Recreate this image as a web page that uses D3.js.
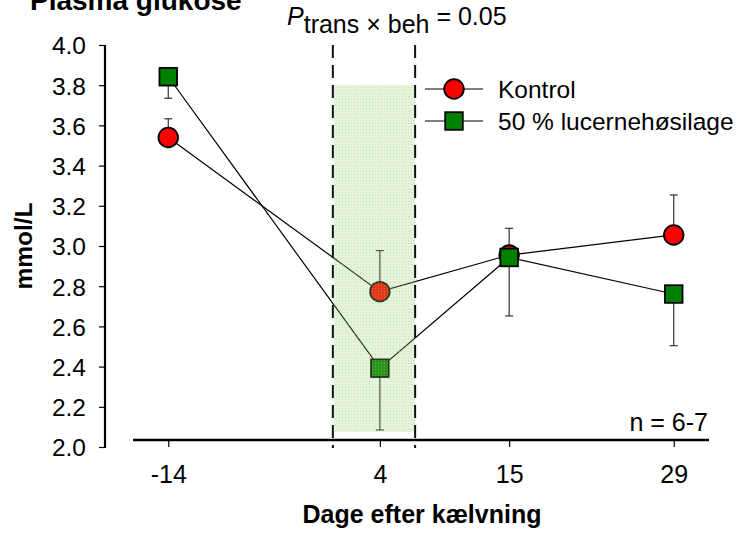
<!DOCTYPE html>
<html>
<head>
<meta charset="utf-8">
<script src="https://cdn.jsdelivr.net/npm/d3@7"></script>
<style>
  html, body { margin: 0; padding: 0; background: #fff; }
  svg { display: block; font-family: Arial, "Liberation Sans", sans-serif; }
</style>
</head>
<body>
<svg id="chart" width="744" height="534"></svg>
<script>
// ---- data ----
const days = [-14, 4, 15, 29];
const kontrolMean = [3.54, 2.773, 2.955, 3.055];
const kontrolUpper = [3.633, 2.977, 3.088, 3.254];
const lucerneMean = [3.842, 2.392, 2.943, 2.761];
const lucerneLower = [3.735, 2.085, 2.652, 2.504];
const yTicks = [2.0, 2.2, 2.4, 2.6, 2.8, 3.0, 3.2, 3.4, 3.6, 3.8, 4.0];
const xTickLabels = ["-14", "4", "15", "29"];
const windowDays = [0, 7];
const windowValues = [2.075, 3.8];
const seriesNames = ["Kontrol", "50 % lucernehøsilage"];

const svg = d3.select("#chart");
const x = d3.scaleLinear().domain([-17, 32]).range([133, 709]);
const y = d3.scaleLinear().domain([2, 4]).range([447, 45]);

// title
svg.append("text").attr("x", 30).attr("y", 10)
  .attr("font-size", 28).attr("font-weight", "bold").text("Plasma glukose");

// y axis
const yAxis = svg.append("g").attr("transform", "translate(105,0)")
  .call(d3.axisLeft(y).tickValues(yTicks).tickFormat(d3.format(".1f")).tickSize(6).tickPadding(13));
yAxis.select(".domain").attr("stroke-width", 2.2).attr("d", `M0,${y(2)+1}V${y(4)}`);
yAxis.selectAll(".tick line").attr("stroke-width", 1.2);
yAxis.selectAll(".tick text").attr("font-size", 24.5).attr("fill", "#000")
  .attr("font-family", "Arial, 'Liberation Sans', sans-serif").attr("dy", "0.36em");

// x axis
const xAxis = svg.append("g").attr("transform", "translate(0,440)")
  .call(d3.axisBottom(x).tickValues(days).tickFormat((d, i) => xTickLabels[i]).tickSize(7).tickPadding(18));
xAxis.select(".domain").attr("stroke-width", 2.6).attr("d", `M${x(-17)},0H${x(32)}`);
xAxis.selectAll(".tick line").attr("stroke-width", 1.2);
xAxis.selectAll(".tick text").attr("font-size", 25).attr("fill", "#000")
  .attr("font-family", "Arial, 'Liberation Sans', sans-serif");

// axis titles
svg.append("text").attr("x", 422).attr("y", 523).attr("text-anchor", "middle")
  .attr("font-size", 25).attr("font-weight", "bold").text("Dage efter kælvning");
svg.append("text").attr("transform", "translate(32,246) rotate(-90)").attr("text-anchor", "middle")
  .attr("font-size", 24.5).attr("font-weight", "bold").text("mmol/L");

// n label
svg.append("text").attr("x", 708).attr("y", 431).attr("text-anchor", "end")
  .attr("font-size", 25).text("n = 6-7");

// connecting lines
const line = d3.line().x((d, i) => x(days[i])).y(d => y(d));
svg.append("path").datum(kontrolMean).attr("d", line).attr("fill", "none").attr("stroke", "#000").attr("stroke-width", 1.2);
svg.append("path").datum(lucerneMean).attr("d", line).attr("fill", "none").attr("stroke", "#000").attr("stroke-width", 1.2);

// error bars
function errBars(means, ends) {
  const g = svg.append("g").attr("stroke", "#333").attr("stroke-width", 1.2);
  means.forEach((m, i) => {
    const cx = x(days[i]);
    g.append("line").attr("x1", cx).attr("x2", cx).attr("y1", y(m)).attr("y2", y(ends[i]));
    g.append("line").attr("x1", cx - 4).attr("x2", cx + 4).attr("y1", y(ends[i])).attr("y2", y(ends[i]));
  });
}
errBars(kontrolMean, kontrolUpper);
errBars(lucerneMean, lucerneLower);

// markers
svg.append("g").selectAll("circle").data(kontrolMean).join("circle")
  .attr("cx", (d, i) => x(days[i])).attr("cy", d => y(d)).attr("r", 9.8)
  .attr("fill", "#ff0000").attr("stroke", "#000").attr("stroke-width", 1.8);
svg.append("g").selectAll("rect").data(lucerneMean).join("rect")
  .attr("x", (d, i) => x(days[i]) - 8.8).attr("y", d => y(d) - 8.8)
  .attr("width", 17.6).attr("height", 17.6)
  .attr("fill", "#008000").attr("stroke", "#000").attr("stroke-width", 1.8);

// shaded window (pattern overlay)
const defs = svg.append("defs");
const pat = defs.append("pattern").attr("id", "dots").attr("width", 3).attr("height", 3)
  .attr("patternUnits", "userSpaceOnUse");
pat.append("rect").attr("width", 3).attr("height", 3).attr("fill", "#9bd170").attr("fill-opacity", 0.26);
pat.append("rect").attr("width", 1).attr("height", 1).attr("fill", "#9bd170").attr("fill-opacity", 0.4);
svg.append("rect")
  .attr("x", x(windowDays[0]) + 1).attr("width", x(windowDays[1]) - x(windowDays[0]) - 1)
  .attr("y", y(windowValues[1])).attr("height", y(windowValues[0]) - y(windowValues[1]))
  .attr("fill", "url(#dots)");

// dashed lines
windowDays.forEach(d => {
  svg.append("line").attr("x1", x(d)).attr("x2", x(d)).attr("y1", 45).attr("y2", 448)
    .attr("stroke", "#111").attr("stroke-width", 2).attr("stroke-dasharray", "13,7");
});

// P label
const pt = svg.append("text").attr("x", 287).attr("y", 25).attr("font-size", 25);
pt.append("tspan").attr("font-style", "italic").text("P");
pt.append("tspan").attr("dy", 8).text("trans × beh");
pt.append("tspan").attr("dy", -8).text(" = 0.05");

// legend
const lg = svg.append("g");
[89, 121].forEach((ly, i) => {
  lg.append("line").attr("x1", 425).attr("x2", 483).attr("y1", ly).attr("y2", ly)
    .attr("stroke", "#000").attr("stroke-width", 1.2);
  if (i === 0) {
    lg.append("circle").attr("cx", 454).attr("cy", ly).attr("r", 9.8)
      .attr("fill", "#ff0000").attr("stroke", "#000").attr("stroke-width", 1.8);
  } else {
    lg.append("rect").attr("x", 454 - 8.8).attr("y", ly - 8.8).attr("width", 17.6).attr("height", 17.6)
      .attr("fill", "#008000").attr("stroke", "#000").attr("stroke-width", 1.8);
  }
  lg.append("text").attr("x", 498).attr("y", ly + 9).attr("font-size", 24.5).text(seriesNames[i]);
});
</script>
</body>
</html>
